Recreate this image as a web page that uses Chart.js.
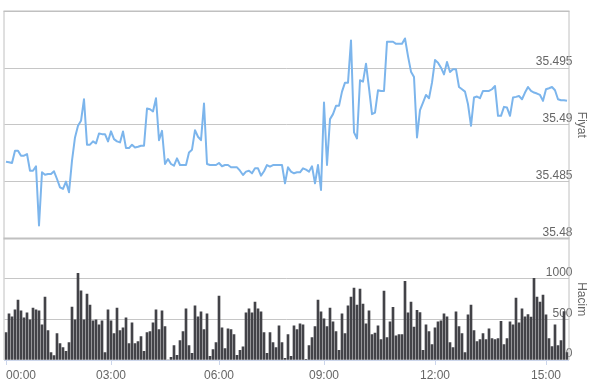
<!DOCTYPE html>
<html><head><meta charset="utf-8">
<script src="https://cdn.jsdelivr.net/npm/chart.js@4.4.0/dist/chart.umd.min.js"></script>
<style>html,body{margin:0;padding:0;background:#fff;}canvas{display:block;}</style>
</head><body>
<canvas id="c" width="591" height="382"></canvas>
<script>
const price = [
35.48675,35.48670,35.48664,35.48772,35.48772,35.48728,35.48728,35.48743,35.48596,35.48596,
35.48635,35.48114,35.48582,35.48561,35.48567,35.48567,35.48591,35.48523,35.48450,35.48436,
35.48500,35.48406,35.48684,35.48889,35.48991,35.49035,35.49225,35.48825,35.48825,35.48854,
35.48836,35.48924,35.48918,35.48918,35.48854,35.48942,35.48874,35.48854,35.48845,35.48942,
35.48795,35.48795,35.48825,35.48801,35.48807,35.48816,35.48816,35.49143,35.49137,35.49117,
35.49234,35.48865,35.48947,35.48655,35.48699,35.48655,35.48640,35.48705,35.48646,35.48646,
35.48646,35.48757,35.48781,35.48953,35.48895,35.48865,35.49187,35.48655,35.48646,35.48646,
35.48646,35.48664,35.48635,35.48646,35.48646,35.48626,35.48626,35.48626,35.48596,35.48558,
35.48588,35.48596,35.48573,35.48617,35.48617,35.48553,35.48591,35.48646,35.48632,35.48646,
35.48646,35.48646,35.48646,35.48485,35.48626,35.48588,35.48573,35.48582,35.48582,35.48617,
35.48605,35.48588,35.48635,35.48485,35.48646,35.48427,35.49196,35.48646,35.49050,35.49094,
35.49167,35.49167,35.49292,35.49371,35.49371,35.49743,35.48933,35.48880,35.49392,35.49380,
35.49538,35.49322,35.49094,35.49108,35.49304,35.49298,35.49298,35.49731,35.49731,35.49731,
35.49713,35.49713,35.49713,35.49760,35.49605,35.49468,35.49421,35.48889,35.49129,35.49196,
35.49263,35.49234,35.49371,35.49570,35.49547,35.49503,35.49444,35.49553,35.49465,35.49488,
35.49488,35.49333,35.49313,35.49292,35.49181,35.48991,35.49240,35.49249,35.49234,35.49298,
35.49298,35.49298,35.49313,35.49342,35.49079,35.49079,35.49158,35.49152,35.49079,35.49240,
35.49246,35.49254,35.49225,35.49284,35.49333,35.49298,35.49284,35.49275,35.49263,35.49211,
35.49313,35.49322,35.49333,35.49304,35.49225,35.49216,35.49216,35.49211
];
const volume = [
337,569,533,618,740,606,520,581,496,642,
618,606,435,776,362,93,53,325,203,154,
106,215,654,496,1069,854,496,813,679,484,
496,435,484,93,618,484,325,642,362,398,
520,203,459,203,228,289,106,337,350,459,
618,374,606,411,0,33,179,57,240,350,
630,179,81,667,533,593,374,569,45,130,
215,789,398,142,386,374,313,57,118,163,
581,630,581,715,630,593,337,81,337,215,
154,423,215,20,313,45,423,374,447,435,
8,179,276,411,740,593,508,411,642,472,
350,118,569,325,667,776,886,679,874,691,
447,606,313,333,423,252,850,276,472,650,
297,313,313,972,581,715,407,614,585,118,
435,350,191,398,472,484,569,533,215,154,
593,411,325,93,557,679,362,228,252,325,
252,386,264,252,264,476,191,264,472,435,
764,459,630,533,561,528,1008,776,715,801,
557,264,167,435,179,240,598,93
];
const tickLabels = ['00:00','03:00','06:00','09:00','12:00','15:00'];
const tickIndex = [0,35,71,106,143,180];
const categories = price.map((_, i) => i);

const FONT = "'Liberation Sans', Arial, sans-serif";
const GRID = '#c6c6c6';
const FRAME = '#c0c0c0';
const AXIS = '#ccd6eb';
const TXT = '#666666';

const framePlugin = {
  id: 'frame',
  beforeDatasetsDraw(chart) {
    const {ctx, chartArea: a, scales} = chart;
    const sep = scales.y.bottom;
    ctx.save();
    ctx.strokeStyle = FRAME;
    ctx.lineWidth = 1;
    ctx.beginPath();
    ctx.moveTo(4, a.top); ctx.lineTo(4, a.bottom);
    ctx.moveTo(569, a.top); ctx.lineTo(569, a.bottom);
    ctx.stroke();
    ctx.lineWidth = 1.5;
    ctx.beginPath();
    ctx.moveTo(3.5, a.top); ctx.lineTo(569.5, a.top);
    ctx.stroke();
    ctx.lineWidth = 2;
    ctx.beginPath();
    ctx.moveTo(3.5, sep); ctx.lineTo(569.5, sep);
    ctx.stroke();
    ctx.restore();
  }
};

const near = (a, b) => Math.abs(a - b) < 1e-7;

new Chart(document.getElementById('c'), {
  type: 'bar',
  data: {
    labels: categories,
    datasets: [
      { type: 'line', data: price, yAxisID: 'y', borderColor: '#7cb5ec', borderWidth: 2,
        pointRadius: 0, tension: 0, fill: false, borderJoinStyle: 'round' },
      { type: 'bar', data: volume, yAxisID: 'y2', backgroundColor: '#434348',
        barThickness: 2, borderWidth: 0 }
    ]
  },
  options: {
    responsive: false,
    animation: false,
    devicePixelRatio: 1,
    layout: { padding: { left: 4.5, top: 10, right: 0, bottom: 0 } },
    plugins: { legend: { display: false }, tooltip: { enabled: false } },
    scales: {
      x: {
        type: 'category',
        offset: true,
        grid: { display: true, drawOnChartArea: false, drawTicks: true, tickLength: 5, offset: false,
          tickColor: (c) => (c.tick && c.tick.value === price.length - 1) ? 'rgba(0,0,0,0)' : AXIS },
        border: { display: true, color: AXIS },
        ticks: { autoSkip: false, maxRotation: 0, minRotation: 0, align: 'inner', padding: 3,
          color: TXT, font: { family: FONT, size: 12 },
          callback: (v) => { const k = tickIndex.indexOf(v); return k >= 0 ? tickLabels[k] : ''; } },
        afterBuildTicks: (s) => { s.ticks = tickIndex.concat([price.length - 1]).map(v => ({ value: v })); },
        afterFit: (s) => { s.height = 22; }
      },
      y: {
        type: 'linear', position: 'right', stack: 'main', stackWeight: 228,
        min: 35.48, max: 35.5,
        grid: { drawTicks: false, color: (c) => (c.tick && (near(c.tick.value, 35.5) || near(c.tick.value, 35.48))) ? 'rgba(0,0,0,0)' : GRID },
        border: { display: false },
        ticks: { stepSize: 0.005, mirror: true, padding: 4, labelOffset: -6, color: TXT,
          font: { family: FONT, size: 12 },
          callback: (v) => near(v, 35.5) ? '' : String(parseFloat(v.toFixed(3))) },
        title: { display: true, text: 'Fiyat', color: TXT, font: { family: FONT, size: 12 }, padding: { top: 2, bottom: 0 } },
        afterFit: (s) => { s.width = 22.5; }
      },
      y2: {
        type: 'linear', position: 'right', stack: 'main', stackWeight: 122,
        min: 0, max: 1500,
        grid: { drawTicks: false, color: (c) => (c.tick && (c.tick.value === 0 || c.tick.value === 1500)) ? 'rgba(0,0,0,0)' : GRID },
        border: { display: false },
        ticks: { stepSize: 500, mirror: true, padding: 4, labelOffset: -6, color: TXT,
          font: { family: FONT, size: 12 },
          callback: (v) => v === 1500 ? '' : String(v) },
        title: { display: true, text: 'Hacim', color: TXT, font: { family: FONT, size: 12 }, padding: { top: 2, bottom: 0 } },
        afterFit: (s) => { s.width = 22.5; }
      }
    }
  },
  plugins: [framePlugin]
});
</script>
</body></html>
